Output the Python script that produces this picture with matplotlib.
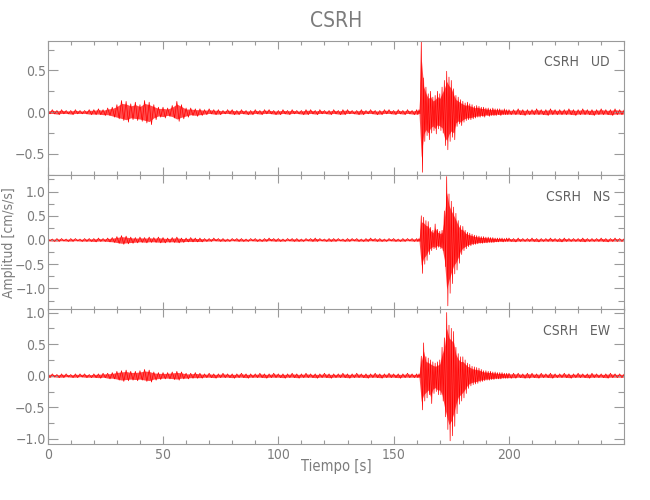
import numpy as np
import matplotlib
matplotlib.use('Agg')
from matplotlib import pyplot as plt
from matplotlib import ticker

plt.rcParams['font.family'] = ['DejaVu Sans']
plt.rcParams['font.stretch'] = 'condensed'

# Time grid [s]: 2 s bins in the quiet part, 1 s bins around the main arrival
t_grid = list(range(0, 160, 2)) + list(range(160, 200)) + list(range(200, 251, 2))

# Envelope of each trace per time bin (max / min), in 0.01 cm/s/s
ud_hi = [2, 3, 2, 3, 2, 2, 3, 2, 2, 3, 3, 4, 3,
         5, 6,
         9, 14, 13, 10, 12, 9, 14, 12, 9, 6, 6, 5, 8, 13, 9, 5, 5, 4, 4,
         3, 4, 3, 3, 2, 3, 3, 2, 3, 2, 2, 3, 2, 3, 3, 2, 2, 3, 2, 3,
         2, 2, 3, 3, 2, 3, 2, 2, 3, 2, 3, 3, 2, 2, 3, 2, 3, 2, 2, 3,
         3, 2, 3, 2, 3, 2,
         3, 3, 85, 41, 30, 22, 25, 18, 20, 25, 22, 30, 38, 49, 42, 38, 28, 20, 18, 15,
         13, 11, 12, 10, 9, 7, 8, 7, 6, 6, 5, 5, 4, 5, 4, 4, 4, 3, 4, 3,
         3, 3, 4, 3, 3, 3, 4, 3, 3, 4, 3, 3, 3, 4, 3, 3, 4, 3, 3, 3, 4, 3, 3, 4, 3, 3]
ud_lo = [-2, -2, -3, -2, -2, -3, -2, -2, -2, -3, -3, -3, -4,
         -4, -6,
         -8, -10, -12, -9, -10, -11, -13, -15, -9, -6, -7, -5, -7, -11, -8, -6, -4, -5, -4,
         -3, -2, -3, -3, -2, -2, -3, -3, -2, -3, -3, -2, -3, -2, -2, -3, -3, -2, -3, -2,
         -2, -3, -3, -2, -3, -2, -2, -3, -2, -3, -3, -2, -2, -3, -3, -2, -2, -3, -3, -2,
         -2, -3, -2, -3, -2, -3,
         -3, -2, -72, -35, -28, -33, -25, -22, -26, -20, -22, -25, -40, -45, -35, -30, -33, -17, -14, -16,
         -12, -10, -9, -9, -8, -7, -6, -6, -5, -6, -4, -5, -4, -4, -4, -3, -4, -3, -3, -3,
         -3, -3, -3, -4, -3, -3, -3, -3, -4, -3, -3, -3, -3, -3, -4, -3, -3, -3, -4, -3, -3, -3, -4, -3, -3, -3]

ns_hi = [3, 2, 3, 3, 2, 3, 3, 2, 3, 3, 3, 4, 3,
         4, 5,
         7, 9, 8, 6, 5, 6, 5, 6, 5, 6, 5, 4, 5, 6, 4, 4, 5, 4, 4,
         3, 3, 4, 3, 3, 2, 3, 3, 3, 2, 3, 3, 2, 3, 4, 3, 3, 2, 3, 3,
         3, 2, 3, 3, 4, 3, 2, 3, 3, 3, 2, 3, 3, 3, 2, 3, 4, 3, 3, 2,
         3, 3, 2, 3, 3, 3,
         3, 3, 50, 47, 40, 38, 26, 20, 33, 22, 18, 20, 60, 131, 95, 80, 68, 55, 40, 30,
         28, 20, 16, 14, 12, 10, 9, 8, 7, 7, 6, 6, 5, 5, 4, 4, 4, 4, 3, 4,
         4, 3, 4, 3, 3, 4, 3, 3, 3, 4, 3, 3, 4, 3, 3, 3, 4, 3, 3, 3, 4, 3, 3, 4, 3, 3]
ns_lo = [-2, -3, -3, -2, -3, -3, -2, -3, -3, -3, -4, -3, -3,
         -4, -5,
         -7, -9, -8, -7, -6, -5, -6, -5, -5, -6, -6, -5, -5, -6, -5, -4, -4, -4, -4,
         -3, -3, -2, -3, -3, -3, -2, -3, -3, -3, -2, -3, -3, -3, -2, -3, -3, -3, -2, -3,
         -3, -3, -2, -3, -3, -2, -3, -3, -3, -2, -3, -3, -2, -3, -3, -3, -2, -3, -3, -3,
         -2, -3, -3, -3, -2, -3,
         -3, -3, -69, -50, -42, -30, -22, -18, -20, -15, -18, -22, -55, -136, -110, -90, -70, -62, -48, -30,
         -22, -18, -14, -12, -10, -9, -8, -7, -7, -6, -6, -5, -5, -5, -4, -4, -3, -4, -3, -3,
         -3, -4, -3, -3, -3, -3, -4, -3, -3, -3, -3, -4, -3, -3, -3, -3, -4, -3, -3, -3, -3, -4, -3, -3, -3, -3]

ew_hi = [3, 3, 2, 3, 3, 2, 3, 3, 3, 2, 3, 3, 4,
         4, 5,
         7, 8, 9, 7, 7, 8, 10, 9, 6, 5, 5, 5, 6, 7, 6, 4, 4, 5, 4,
         3, 4, 3, 3, 4, 3, 3, 3, 4, 3, 3, 3, 4, 3, 3, 4, 3, 3, 3, 4,
         3, 3, 4, 3, 3, 3, 4, 3, 3, 3, 4, 3, 3, 4, 3, 3, 3, 4, 3, 3,
         4, 3, 3, 3, 4, 3,
         3, 3, 31, 52, 30, 28, 25, 22, 20, 22, 25, 45, 60, 100, 80, 75, 70, 45, 35, 30,
         30, 25, 20, 18, 15, 14, 13, 12, 10, 8, 8, 7, 7, 6, 6, 5, 5, 5, 4, 4,
         4, 4, 4, 3, 4, 4, 3, 4, 3, 4, 3, 3, 4, 3, 3, 4, 3, 3, 4, 3, 3, 3, 4, 3, 3, 3]
ew_lo = [-3, -2, -3, -3, -2, -3, -3, -2, -3, -3, -3, -4, -3,
         -5, -5,
         -7, -9, -8, -7, -8, -7, -9, -10, -7, -6, -5, -5, -6, -7, -5, -5, -4, -4, -4,
         -3, -3, -4, -3, -3, -3, -4, -3, -3, -4, -3, -3, -3, -4, -3, -3, -3, -4, -3, -3,
         -4, -3, -3, -3, -4, -3, -3, -4, -3, -3, -3, -4, -3, -3, -3, -4, -3, -3, -4, -3,
         -3, -3, -4, -3, -3, -3,
         -3, -3, -54, -40, -35, -30, -44, -28, -25, -30, -30, -40, -65, -85, -103, -95, -80, -60, -45, -40,
         -35, -28, -20, -16, -14, -13, -12, -10, -9, -8, -7, -7, -6, -6, -5, -5, -5, -4, -4, -4,
         -4, -4, -3, -4, -4, -3, -4, -3, -3, -4, -3, -3, -3, -4, -3, -3, -3, -4, -3, -3, -3, -4, -3, -3, -3, -3]

channels = ['UD', 'NS', 'EW']
station = 'CSRH'
y_limits = [(-0.756, 0.856), (-1.44, 1.34), (-1.08, 1.05)]
y_major = [[-0.5, 0.0, 0.5], [-1.0, -0.5, 0.0, 0.5, 1.0], [-1.0, -0.5, 0.0, 0.5, 1.0]]
x_major = [0, 50, 100, 150, 200]

grey = '#7c7c7c'
axis_grey = '#9a9a9a'

fig = plt.figure(figsize=(6.5, 5), dpi=100)
left, width = 0.0734, 0.887
bottoms = [0.6494, 0.3806, 0.112]
height = 0.2692

t = np.array(t_grid, dtype=float)
step = np.diff(t, append=t[-1] + 2)

fmt = ticker.FuncFormatter(lambda v, p: ('%.1f' % v).replace('-', '\u2212'))

traces = [(ud_hi, ud_lo), (ns_hi, ns_lo), (ew_hi, ew_lo)]
for i, (hi, lo) in enumerate(traces):
    ax = fig.add_axes([left, bottoms[i], width, height])
    hi_v = np.array(hi) / 100.0
    lo_v = np.array(lo) / 100.0
    # filled envelope plus a zig-zag between bin max and min
    ax.fill_between(t, lo_v * 0.75, hi_v * 0.75, color='#ff0000', alpha=0.7, lw=0)
    x = np.column_stack([t, t + step / 2]).ravel()
    y = np.column_stack([hi_v, lo_v]).ravel()
    ax.plot(x, y, color='#ff0000', lw=0.5)

    ax.set_xlim(0, 250)
    ax.set_ylim(*y_limits[i])
    ax.xaxis.set_major_locator(ticker.FixedLocator(x_major))
    ax.xaxis.set_minor_locator(ticker.MultipleLocator(10))
    ax.yaxis.set_major_locator(ticker.FixedLocator(y_major[i]))
    ax.yaxis.set_minor_locator(ticker.MultipleLocator(0.25))
    ax.yaxis.set_major_formatter(fmt)
    ax.tick_params(which='both', direction='in', top=True, right=True,
                   colors=axis_grey, labelcolor=grey, labelsize=10, width=0.8)
    ax.tick_params(axis='x', which='major', length=6, pad=3)
    ax.tick_params(axis='x', which='minor', length=2.8)
    ax.tick_params(axis='y', which='major', length=7, pad=1.5)
    ax.tick_params(axis='y', which='minor', length=4)
    if i < 2:
        ax.tick_params(axis='x', labelbottom=False)
    for s in ax.spines.values():
        s.set_color(axis_grey)
        s.set_linewidth(0.8)
    ax.text(0.975, 0.84, station + '   ' + channels[i], transform=ax.transAxes,
            ha='right', va='center', color='#606060', fontsize=10)

fig.text(0.517, 0.958, station, ha='center', va='center', color=grey, fontsize=15)
fig.text(0.517, 0.066, 'Tiempo [s]', ha='center', va='center', color=grey, fontsize=10.5)
fig.text(0.014, 0.515, 'Amplitud [cm/s/s]', rotation=90, ha='center', va='center',
         color=grey, fontsize=10)

fig.savefig('out.png', dpi=100)
